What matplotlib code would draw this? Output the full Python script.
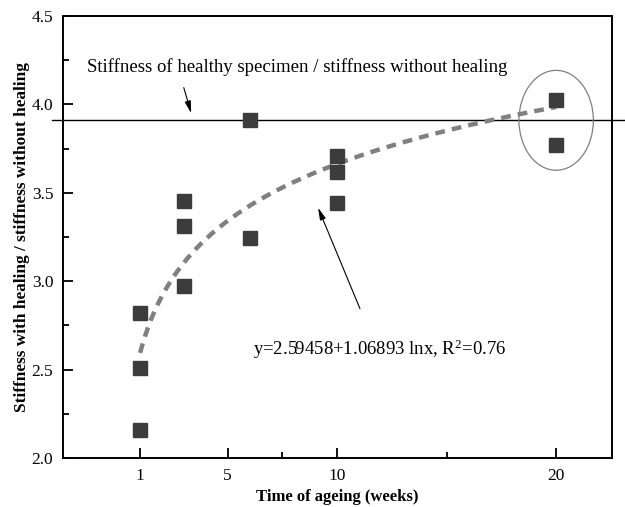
import numpy as np
import matplotlib
matplotlib.use("Agg")
import matplotlib.pyplot as plt
from matplotlib.patches import Ellipse

plt.rcParams['font.family'] = ['Liberation Serif', 'DejaVu Serif']
plt.rcParams['mathtext.fontset'] = 'custom'
plt.rcParams['mathtext.rm'] = 'Liberation Serif'
plt.rcParams['mathtext.it'] = 'Liberation Serif:italic'
plt.rcParams['mathtext.bf'] = 'Liberation Serif:bold'

# Data
weeks = [1, 1, 1, 3, 3, 3, 6, 6, 10, 10, 10, 20, 20]
stiffness_ratio = [2.82, 2.51, 2.16, 3.455, 3.31, 2.975, 3.91, 3.245, 3.71, 3.615, 3.445, 4.025, 3.77]
healthy_ratio = 3.91
fit_a, fit_b = 2.59458, 1.06893   # y = a + b*log10(x), x from 1 to 20
fit_range = [1, 20]
x_ticks = [1, 5, 10, 20]
x_minor = [7.5, 15]
y_ticks = [2.0, 2.5, 3.0, 3.5, 4.0, 4.5]

fig = plt.figure(figsize=(6.25, 5.07), dpi=100)
ax = fig.add_axes([63/625, 1-458/507, (612-63)/625, (458-16)/507])

xf = np.linspace(fit_range[0], fit_range[1], 300)
ax.plot(xf, fit_a + fit_b*np.log10(xf), color='#808080', lw=3.2, ls=(0, (2.2, 1.6)), zorder=2)

ax.plot(weeks, stiffness_ratio, ls='none', marker='s', ms=9.5, color='#3c3c3c', zorder=3)

ax.plot([-3.0, 23.1], [healthy_ratio, healthy_ratio], color='black', lw=1.0, clip_on=False, zorder=1)

ax.add_patch(Ellipse((20.0, 3.91), 3.4, 0.565, fill=False, ec='#808080', lw=0.9))

ax.set_xlim(-2.52, 22.55)
ax.set_ylim(2.0, 4.5)
ax.set_xticks(x_ticks)
ax.set_xticklabels([str(t) for t in x_ticks])
ax.set_xticks(x_minor, minor=True)
ax.set_yticks(y_ticks)
ax.set_yticklabels([f"{t:.1f}" for t in y_ticks])
ax.set_yticks(np.arange(2.25, 4.5, 0.5), minor=True)
ax.tick_params(which='major', direction='in', length=7, width=1.3, labelsize=12.5, pad=7)
ax.tick_params(which='minor', direction='in', length=4, width=1.3)
for s in ax.spines.values():
    s.set_linewidth(1.4)

ax.set_xlabel('Time of ageing (weeks)', fontsize=12, fontweight='bold', labelpad=4)
ax.set_ylabel('Stiffness with healing / stiffness without healing', fontsize=12.4, fontweight='bold', labelpad=1)

ax.text(-1.42, 4.21, 'Stiffness of healthy specimen / stiffness without healing',
        fontsize=13.5, va='center', ha='left')
ax.annotate('', xy=(3.37, 3.935), xytext=(2.96, 4.11),
            arrowprops=dict(arrowstyle='-|>,head_length=0.6,head_width=0.15', color='black', lw=0.8, mutation_scale=12))

ax.text(6.16, 2.615, r'y=2.59458+1.06893 lnx, R$^{\mathrm{2}}$=0.76', fontsize=13.5, va='center', ha='left')
ax.annotate('', xy=(9.08, 3.43), xytext=(11.09, 2.83),
            arrowprops=dict(arrowstyle='-|>,head_length=0.6,head_width=0.15', color='black', lw=0.8, mutation_scale=12))

fig.savefig('out.png', dpi=100)
